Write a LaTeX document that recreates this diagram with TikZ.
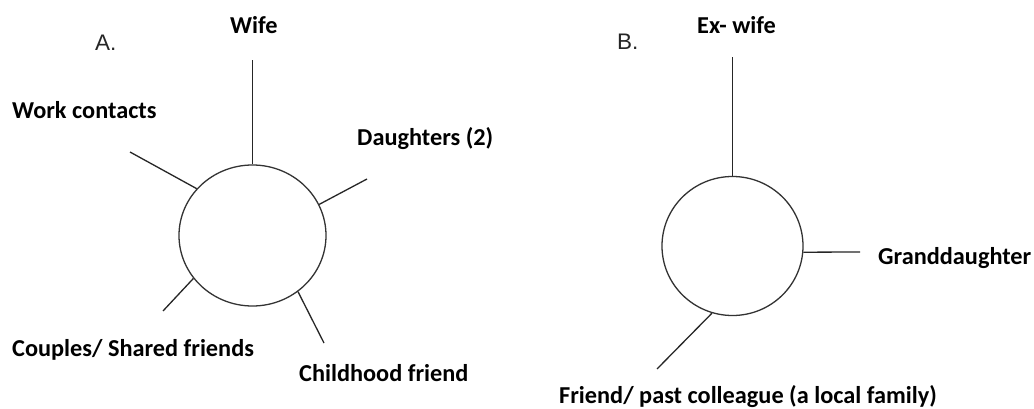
\documentclass[tikz,border=0pt]{standalone}
\usepackage{fontspec}
\setmainfont{Carlito}
\newfontfamily\letterfont{Liberation Sans}
\usetikzlibrary{shapes.geometric}
\tikzset{
  lbl/.style={anchor=base west, inner sep=0pt, font=\fontsize{24.3}{27}\selectfont\bfseries, text=black},
  panel/.style={anchor=base west, inner sep=0pt, font=\letterfont\fontsize{22.5}{25}\selectfont, text=black!85},
  ego/.style={draw=black!80, line width=1.3pt, ellipse, inner sep=0pt},
  tie/.style={draw=black!85, line width=1.3pt},
}
\begin{document}
\begin{tikzpicture}[x=1pt,y=-1pt]
\useasboundingbox[fill=white] (0,0) rectangle (1034,409);
% Panel A
\node[panel] (pa) at (95,51) {A.};
\node[ego, minimum width=147pt, minimum height=141pt] (cA) at (252.5,235.5) {};
\coordinate (eWife) at (252.5,60);
\coordinate (eWork) at (130,152);
\coordinate (eDau) at (367,179);
\coordinate (eCou) at (163,311);
\coordinate (eChi) at (324,343);
\draw[tie] (cA.90) -- (eWife);
\draw[tie] (cA.140) -- (eWork);
\draw[tie] (cA.25) -- (eDau);
\draw[tie] (cA.216) -- (eCou);
\draw[tie] (cA.309) -- (eChi);
\node[lbl] (tWife) at (230,34) {Wife};
\node[lbl] (tWork) at (12,119) {Work contacts};
\node[lbl] (tDau) at (357,146) {Daughters (2)};
\node[lbl] (tCou) at (12,356) {Couples/ Shared friends};
\node[lbl] (tChi) at (299,381) {Childhood friend};
% Panel B
\node[panel] (pb) at (617,50) {B.};
\node[ego, minimum width=141pt, minimum height=139pt] (cB) at (732.5,246) {};
\coordinate (eEx) at (732.5,57);
\coordinate (eGra) at (860,252);
\coordinate (eFri) at (657,369);
\draw[tie] (cB.90) -- (eEx);
\draw[tie] (cB.355) -- (eGra);
\draw[tie] (cB.253.5) -- (eFri);
\node[lbl] (tEx) at (697,34) {Ex- wife};
\node[lbl] (tGra) at (878,264) {Granddaughter};
\node[lbl] (tFri) at (559,403) {Friend/ past colleague (a local family)};
\end{tikzpicture}
\end{document}
